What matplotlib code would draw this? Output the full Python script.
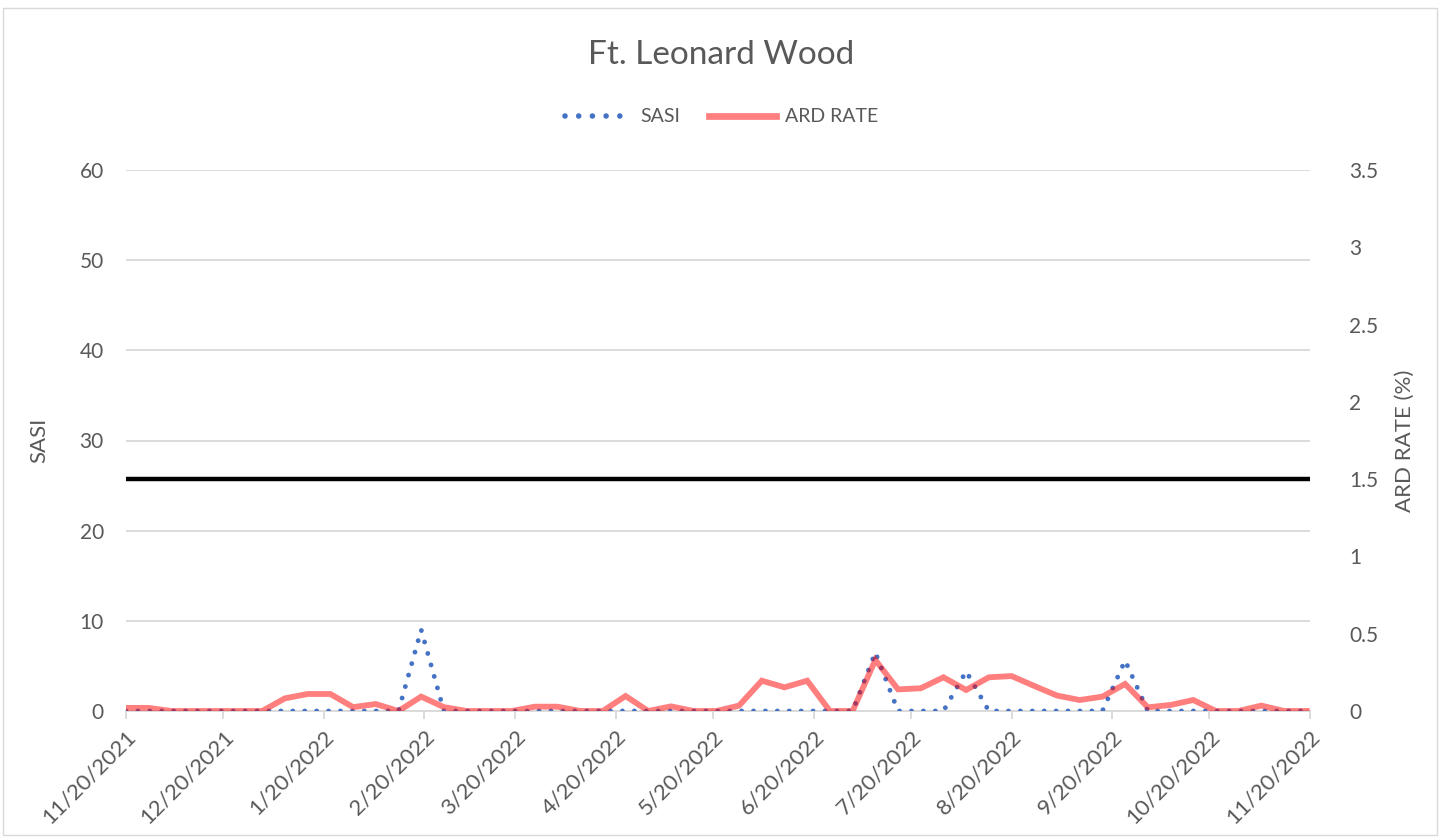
import matplotlib
matplotlib.use("Agg")
import matplotlib.pyplot as plt
import numpy as np
import pandas as pd
from matplotlib.patches import Rectangle

plt.rcParams['font.family'] = ['Lato', 'DejaVu Sans']

dates = pd.date_range("2021-11-20", periods=53, freq="7D")
sasi = [0, 0, 0, 0, 0, 0, 0, 0, 0, 0, 0, 0, 0, 9.0, 0, 0, 0, 0, 0, 0,
        0, 0, 0, 0, 0, 0, 0, 0, 0, 0, 0, 0, 0, 6.5, 0, 0, 0, 4.4, 0, 0,
        0, 0, 0, 0, 5.6, 0, 0, 0, 0, 0, 0, 0, 0]
ard = [0.02, 0.02, 0, 0, 0, 0, 0, 0.082, 0.11, 0.11, 0.025, 0.045, 0, 0.093, 0.025, 0, 0, 0,
       0.028, 0.028, 0, 0, 0.097, 0, 0.03, 0, 0, 0.035, 0.196, 0.153, 0.196, 0, 0, 0.33,
       0.14, 0.147, 0.218, 0.136, 0.218, 0.226, 0.162, 0.10, 0.071, 0.093, 0.175, 0.024,
       0.039, 0.071, 0, 0, 0.035, 0, 0]
threshold = 1.5
tick_labels = ["11/20/2021", "12/20/2021", "1/20/2022", "2/20/2022", "3/20/2022",
               "4/20/2022", "5/20/2022", "6/20/2022", "7/20/2022", "8/20/2022",
               "9/20/2022", "10/20/2022", "11/20/2022"]
tick_dates = pd.to_datetime(tick_labels, format="%m/%d/%Y")

gray = "#595959"
fig = plt.figure(figsize=(14.43, 8.4), dpi=100)
fig.patches.append(Rectangle((0.002, 0.006), 0.994, 0.984, transform=fig.transFigure,
                             fill=False, edgecolor="#d9d9d9", lw=1.0))
ax = fig.add_axes([126/1443, 1-711/840, (1310-126)/1443, (711-170)/840])
ax2 = ax.twinx()

ax.set_ylim(0, 60)
ax2.set_ylim(0, 3.5)
ax.set_yticks(np.arange(0, 61, 10))
ax2.set_yticks(np.arange(0, 3.51, 0.5))
ax2.set_yticklabels(["0", "0.5", "1", "1.5", "2", "2.5", "3", "3.5"])
ax.set_xlim(dates[0], pd.Timestamp("2022-11-20"))
ax.set_xticks(tick_dates)
ax.set_xticklabels(tick_labels, rotation=45, ha="right", rotation_mode="anchor")

ax.yaxis.grid(True, color="#d9d9d9", lw=1.3)
ax.set_axisbelow(True)
for a in (ax, ax2):
    for s in ("left", "right", "top", "bottom"):
        a.spines[s].set_visible(False)
ax.spines["bottom"].set_visible(True)
ax.spines["bottom"].set_color("#d9d9d9")
ax.spines["bottom"].set_linewidth(1.3)

ax.tick_params(axis="x", colors="#d9d9d9", labelcolor=gray, labelsize=16, length=6, width=1.3, pad=5)
ax.tick_params(axis="y", length=0, labelcolor=gray, labelsize=15, pad=16)
ax2.tick_params(axis="y", length=0, labelcolor=gray, labelsize=15, pad=28)

ax2.axhline(threshold, color="black", lw=3.2, zorder=2)
ax.set_zorder(ax2.get_zorder() + 1)
ax.patch.set_visible(False)
l1, = ax.plot(dates, sasi, color="#4472C4", lw=3.5, linestyle=(0, (0.001, 2.45)),
              dash_capstyle="round", zorder=3, label="SASI")
l2, = ax.plot(dates, [v * 60 / 3.5 for v in ard], color="#FF0000", alpha=0.5, lw=4.2,
              solid_joinstyle="miter", zorder=4, label="ARD RATE")

ax.set_ylabel("SASI", color=gray, fontsize=16, labelpad=22)
ax2.set_ylabel("ARD RATE (%)", color=gray, fontsize=16, labelpad=12)

fig.text(0.5, 1 - 55/840, "Ft. Leonard Wood", ha="center", va="center", fontsize=24, color=gray)
leg = fig.legend(handles=[l1, l2], loc="center", bbox_to_anchor=(0.5, 1 - 117/840), ncol=2,
                 frameon=False, fontsize=14, labelcolor=gray, handlelength=3.4, columnspacing=1.5,
                 handletextpad=0.5)
for h in leg.get_lines():
    h.set_linewidth(h.get_linewidth() * 1.15)

fig.savefig("out.png", dpi=100)
